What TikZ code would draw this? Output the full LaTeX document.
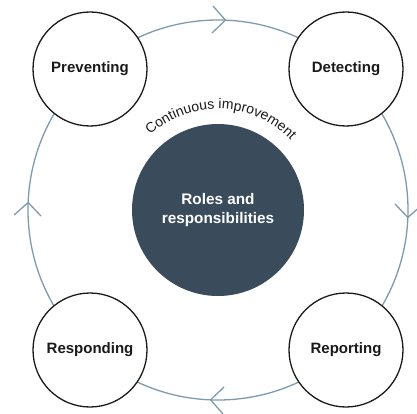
\documentclass[tikz,border=0pt]{standalone}
\usepackage{fontspec}
\setmainfont{Liberation Sans}
\usetikzlibrary{decorations.text,decorations.markings,arrows.meta}
\definecolor{ringc}{HTML}{7F9AAC}
\definecolor{hubc}{HTML}{3A4B5C}
\definecolor{txtc}{HTML}{1A1A1A}
\tikzset{chevtip/.tip={Straight Barb[length=13pt,width=27pt]}}
\begin{document}
\begin{tikzpicture}[x=1pt,y=1pt,
  stage/.style={circle, draw=txtc, line width=1.3pt, fill=white, minimum size=114pt, inner sep=0pt,
    font=\fontsize{15}{18}\selectfont\bfseries, text=txtc},
  hub/.style={circle, fill=hubc, minimum size=172pt, inner sep=0pt, align=center,
    font=\fontsize{15.3}{19}\selectfont\bfseries, text=white},
  ring/.style={draw=ringc, line width=1.3pt},
  ringarrows/.style={postaction={decorate}, decoration={markings,
    mark=at position 0.007 with {\arrow{chevtip}},
    mark=at position 0.257 with {\arrow{chevtip}},
    mark=at position 0.507 with {\arrow{chevtip}},
    mark=at position 0.757 with {\arrow{chevtip}}}}]
\useasboundingbox (0,0) rectangle (417,413);
\coordinate (c) at (218,203);
% cycle ring
\path[ring, ringarrows] (c) ++(90:190) arc[start angle=90, end angle=-270, radius=190];
% hub
\node[hub] (hub) at (c) {Roles and\\responsibilities};
% curved label
\path[decorate, decoration={text along path, text align=center,
  text={|\fontsize{14}{16}\selectfont\color{txtc}|Continuous improvement}}]
  (c) ++(150:101) arc[start angle=150, end angle=26, radius=101];
% stages
\node[stage] (prev) at (90,344) {Preventing};
\node[stage] (det) at (346,344) {Detecting};
\node[stage] (rep) at (346,63) {Reporting};
\node[stage] (resp) at (90,63) {Responding};
\end{tikzpicture}
\end{document}
